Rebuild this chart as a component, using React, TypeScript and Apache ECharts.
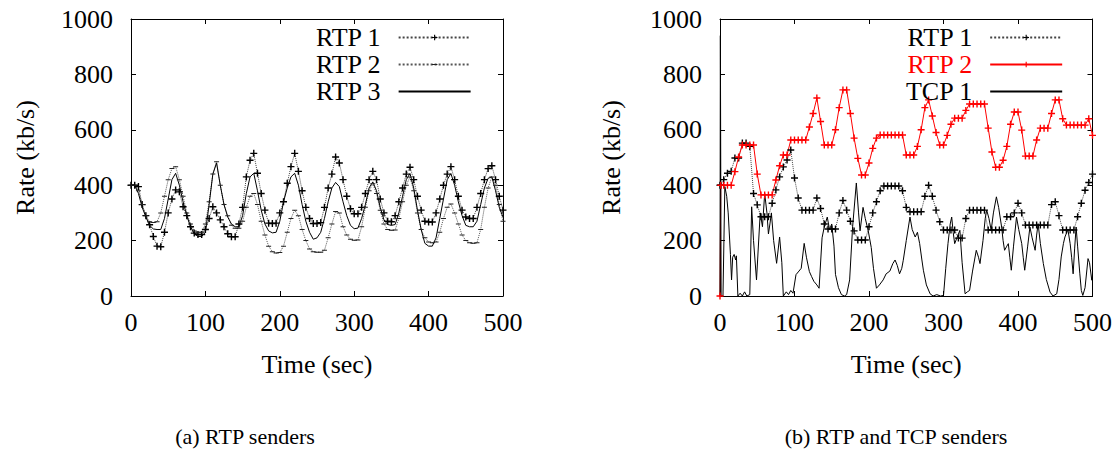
import React, { useEffect, useRef } from "react";
import * as echarts from "echarts";

// ---------- data ----------
const TIME_A = [
  0, 5, 10, 15, 20, 25, 30, 35, 40, 45,
  50, 55, 60, 65, 70, 75, 80, 85, 90, 95,
  100, 105, 110, 115, 120, 125, 130, 135, 140, 145,
  150, 155, 160, 165, 170, 175, 180, 185, 190, 195,
  200, 205, 210, 215, 220, 225, 230, 235, 240, 245,
  250, 255, 260, 265, 270, 275, 280, 285, 290, 295,
  300, 305, 310, 315, 320, 325, 330, 335, 340, 345,
  350, 355, 360, 365, 370, 375, 380, 385, 390, 395,
  400, 405, 410, 415, 420, 425, 430, 435, 440, 445,
  450, 455, 460, 465, 470, 475, 480, 485, 490, 495,
  500,
];

const RTP1_A = [
  400, 400, 395, 330, 290, 257, 215, 180, 178, 230,
  300, 350, 383, 376, 322, 290, 250, 227, 222, 222,
  240, 280, 322, 300, 275, 250, 225, 214, 214, 260,
  320, 430, 490, 515, 443, 370, 310, 263, 262, 263,
  300, 340, 407, 467, 515, 450, 380, 320, 280, 262,
  262, 265, 320, 390, 440, 502, 480, 420, 360, 315,
  297, 297, 320, 370, 420, 450, 420, 350, 300, 270,
  268, 290, 340, 390, 440, 465, 420, 360, 310, 270,
  267, 267, 300, 350, 400, 440, 467, 420, 360, 310,
  285, 280, 280, 320, 370, 420, 460, 470, 420, 360,
  310,
];

const RTP2_A = [
  400, 400, 380, 330, 290, 268, 265, 268, 300, 360,
  420, 460, 467, 420, 360, 300, 260, 235, 230, 230,
  260, 340, 440, 485, 400, 330, 290, 255, 245, 245,
  270, 320, 360, 370, 330, 270, 220, 180, 160, 155,
  157, 180, 230, 280, 310, 290, 240, 200, 170, 160,
  158, 158, 165, 210, 260, 305, 300, 250, 220, 205,
  201, 202, 250, 320, 380, 405, 370, 310, 260, 240,
  237, 238, 280, 340, 400, 430, 380, 300, 240, 210,
  195, 192, 195, 230, 280, 320, 332, 300, 260, 220,
  200, 192, 190, 192, 240, 320, 390, 430, 400, 330,
  270,
];

const RTP3_A = [
  400, 400, 370, 320, 285, 255, 242, 240, 240, 280,
  350, 420, 443, 400, 340, 290, 250, 225, 215, 215,
  230, 330, 440, 480, 400, 330, 285, 260, 250, 250,
  290, 370, 430, 443, 380, 310, 260, 235, 228, 230,
  270, 340, 390, 430, 443, 400, 330, 270, 230, 205,
  210, 230, 280, 340, 390, 410, 395, 340, 290, 255,
  243, 245, 280, 330, 390, 412, 380, 320, 275, 258,
  255, 258, 300, 360, 420, 442, 390, 310, 240, 190,
  180, 180, 210, 280, 350, 420, 442, 400, 340, 290,
  255, 250, 250, 270, 330, 390, 425, 430, 380, 320,
  285,
];

const TIME_B = [
  0, 1,
  5, 10, 15, 20, 25, 30, 35, 40, 45, 50,
  55, 60, 65, 70, 75, 80, 85, 90, 95, 100,
  105, 110, 115, 120, 125, 130, 135, 140, 145, 150,
  155, 160, 165, 170, 175, 180, 185, 190, 195, 200,
  205, 210, 215, 220, 225, 230, 235, 240, 245, 250,
  255, 260, 265, 270, 275, 280, 285, 290, 295, 300,
  305, 310, 315, 320, 325, 330, 335, 340, 345, 350,
  355, 360, 365, 370, 375, 380, 385, 390, 395, 400,
  405, 410, 415, 420, 425, 430, 435, 440, 445, 450,
  455, 460, 465, 470, 475, 480, 485, 490, 495, 500,
];

const RTP1_B = [
  400, 400,
  420, 443, 450, 498, 498, 552, 552, 540, 370, 329,
  286, 286, 286, 335, 383, 430, 466, 491, 527, 426,
  354, 310, 310, 310, 310, 354, 316, 260, 242, 242,
  242, 300, 345, 310, 270, 235, 202, 202, 202, 250,
  300, 340, 380, 397, 397, 397, 397, 397, 380, 320,
  304, 304, 304, 304, 360, 400, 360, 310, 268, 238,
  238, 238, 238, 209, 209, 280, 310, 310, 310, 310,
  310, 238, 238, 238, 238, 238, 286, 286, 300, 335,
  300, 256, 256, 256, 256, 256, 256, 256, 330, 340,
  290, 238, 238, 238, 238, 286, 335, 382, 410, 440,
];

const RTP2_B = [
  0, 400,
  400, 400, 400, 449, 502, 545, 545, 545, 545, 440,
  365, 365, 365, 365, 419, 470, 509, 509, 563, 563,
  563, 563, 563, 610, 659, 715, 630, 545, 545, 545,
  600, 680, 744, 744, 659, 570, 497, 437, 437, 480,
  533, 570, 581, 581, 581, 581, 581, 581, 581, 509,
  509, 509, 540, 600, 680, 708, 650, 590, 545, 545,
  580, 620, 642, 642, 642, 670, 693, 693, 693, 693,
  693, 606, 520, 465, 465, 490, 540, 620, 664, 664,
  599, 505, 505, 505, 563, 606, 606, 606, 659, 708,
  708, 640, 617, 617, 617, 617, 617, 617, 640, 580,
];

const TCP1_TIME = [
  0, 0.5, 1.5, 4, 6.5, 9, 11, 14, 15.5, 17, 19, 21, 22, 24, 27, 30, 33, 36, 40, 42.5,
  45, 49, 54, 57, 60, 63, 65, 67, 69, 72, 76, 80, 83, 85, 89, 92, 95, 98, 102, 106,
  109, 113, 116, 120, 123, 126, 130, 133, 137, 140, 144, 147, 150, 153, 155, 159, 163, 167, 170, 174,
  178, 183, 186, 188, 192, 195, 199, 203, 206, 210, 214, 219, 223, 228, 232, 235, 238, 241, 244, 246,
  250, 255, 258, 262, 265, 268, 271, 273, 277, 282, 286, 291, 296, 300, 303, 306, 309, 311, 313, 315,
  318, 322, 325, 329, 332, 335, 339, 344, 347, 349, 353, 356, 358, 361, 364, 367, 371, 374, 378, 380,
  382, 385, 387, 389, 391, 394, 398, 401, 405, 407, 409, 413, 416, 419, 423, 425, 427, 430, 434, 438,
  443, 447, 452, 455, 458, 461, 463, 467, 470, 472, 474, 476, 478, 480, 483, 485, 487, 490, 494, 496,
  499, 500,
];

const TCP1_RATE = [
  0, 940, 0, 0, 395, 360, 300, 150, 58, 140, 150, 130, 145, 0, 10, 0, 15, 0, 5, 322,
  200, 58, 300, 250, 370, 300, 224, 260, 300, 200, 118, 213, 120, 0, 15, 5, 20, 10, 77, 90,
  100, 190, 140, 88, 70, 53, 40, 28, 210, 250, 285, 240, 260, 180, 78, 30, 5, 0, 5, 58,
  250, 408, 300, 235, 320, 280, 235, 175, 100, 28, 40, 58, 80, 90, 117, 130, 110, 80, 100, 129,
  200, 285, 240, 213, 230, 189, 130, 93, 40, 8, 0, 5, 0, 2, 100, 189, 260, 285, 230, 189,
  210, 237, 120, 8, 15, 20, 90, 165, 140, 117, 200, 280, 310, 280, 237, 300, 358, 320, 249, 200,
  165, 180, 189, 140, 93, 180, 285, 240, 189, 140, 93, 180, 249, 210, 165, 220, 261, 190, 117, 60,
  14, 0, 8, 60, 141, 190, 213, 240, 189, 140, 80, 170, 249, 180, 80, 20, 2, 30, 135, 120,
  57, 80,
];

const X_LABEL = "Time (sec)";
const Y_LABEL = "Rate (kb/s)";
const CAPTIONS = ["(a) RTP senders", "(b) RTP and TCP senders"];

// ---------- helpers ----------
const FONT = "Liberation Serif";
const PLUS = "path://M4,0H6V4H10V6H6V10H4V6H0V4H4Z";
const DASH = "path://M0,0h0.01v0.01h-0.01Z M0,4H10V6H0Z M9.99,9.99h0.01v0.01h-0.01Z";
const CLEAR = "rgba(0,0,0,0)";

function pairs(t: number[], v: number[]) {
  return t.map((x, i) => [x, v[i]]);
}

const axisLine = { show: true, onZero: false, lineStyle: { color: "#000", width: 1 } };
const axisTick = { show: true, inside: true, length: 5, lineStyle: { color: "#000", width: 1 } };
const plain = (v: number) => String(v);

function xAxes(grid: number) {
  return [
    {
      type: "value", gridIndex: grid, position: "bottom", min: 0, max: 500, interval: 100,
      axisLine, axisTick,
      axisLabel: { margin: 13, color: "#000", fontFamily: FONT, fontSize: 26, formatter: plain },
      splitLine: { show: false },
      name: X_LABEL, nameLocation: "middle", nameGap: 55,
      nameTextStyle: { color: "#000", fontFamily: FONT, fontSize: 26 },
    },
    {
      type: "value", gridIndex: grid, position: "top", min: 0, max: 500, interval: 100,
      axisLine, axisTick, axisLabel: { show: false }, splitLine: { show: false },
    },
  ];
}

function yAxes(grid: number, gap: number) {
  return [
    {
      type: "value", gridIndex: grid, position: "left", min: 0, max: 1000, interval: 200,
      axisLine, axisTick,
      axisLabel: { margin: 18, color: "#000", fontFamily: FONT, fontSize: 26, formatter: plain },
      splitLine: { show: false },
      name: Y_LABEL, nameLocation: "middle", nameGap: gap,
      nameTextStyle: { color: "#000", fontFamily: FONT, fontSize: 26 },
    },
    {
      type: "value", gridIndex: grid, position: "right", min: 0, max: 1000, interval: 200,
      axisLine, axisTick, axisLabel: { show: false }, splitLine: { show: false },
    },
  ];
}

const legendBase = {
  orient: "vertical",
  align: "right",
  padding: 0,
  itemGap: 0,
  itemWidth: 72,
  itemHeight: 7,
  selectedMode: false,
  formatter: (name: string) => name.slice(2),
  textStyle: { color: "#000", fontFamily: FONT, fontSize: 26, lineHeight: 27, padding: [0, 13, 0, 0] },
};

export default function App() {
  const ref = useRef<HTMLDivElement>(null);

  useEffect(() => {
    if (!ref.current) return;
    const chart = echarts.init(ref.current, undefined, { renderer: "svg" });
    const option = {
      animation: false,
      backgroundColor: "#fff",
      grid: [
        { left: 131, top: 19, width: 372, height: 277 },
        { left: 720, top: 19, width: 373, height: 277 },
      ],
      xAxis: [...xAxes(0), ...xAxes(1)],
      yAxis: [...yAxes(0, 93), ...yAxes(1, 96)],
      legend: [
        { ...legendBase, left: 315, top: 24, data: ["a:RTP 1", "a:RTP 2", "a:RTP 3"] },
        {
          ...legendBase, left: 905, top: 24,
          data: [
            "b:RTP 1",
            { name: "b:RTP 2", textStyle: { color: "#ff0000" } },
            "b:TCP 1",
          ],
        },
      ],
      series: [
        {
          name: "a:RTP 1", type: "line", xAxisIndex: 0, yAxisIndex: 0,
          data: pairs(TIME_A, RTP1_A),
          symbol: PLUS, symbolSize: 7, showAllSymbol: true,
          itemStyle: { color: "#000" },
          lineStyle: { color: "#444", width: 1, type: "dotted" },
        },
        {
          name: "a:RTP 2", type: "line", xAxisIndex: 0, yAxisIndex: 0,
          data: pairs(TIME_A, RTP2_A),
          symbol: DASH, symbolSize: 5, showAllSymbol: true,
          itemStyle: { color: "#222" },
          lineStyle: { color: "#555", width: 1, type: "dotted" },
        },
        {
          name: "a:RTP 3", type: "line", xAxisIndex: 0, yAxisIndex: 0,
          data: pairs(TIME_A, RTP3_A),
          symbol: "none",
          itemStyle: { color: CLEAR },
          lineStyle: { color: "#000", width: 1, type: "solid" },
        },
        {
          name: "b:RTP 1", type: "line", xAxisIndex: 2, yAxisIndex: 2,
          data: pairs(TIME_B, RTP1_B),
          symbol: PLUS, symbolSize: 7, showAllSymbol: true,
          itemStyle: { color: "#000" },
          lineStyle: { color: "#444", width: 1, type: "dotted" },
        },
        {
          name: "b:RTP 2", type: "line", xAxisIndex: 2, yAxisIndex: 2,
          data: pairs(TIME_B, RTP2_B),
          symbol: PLUS, symbolSize: 7, showAllSymbol: true,
          itemStyle: { color: "#ff0000" },
          lineStyle: { color: "#ff0000", width: 1, type: "solid" },
        },
        {
          name: "b:TCP 1", type: "line", xAxisIndex: 2, yAxisIndex: 2,
          data: pairs(TCP1_TIME, TCP1_RATE),
          symbol: "none",
          itemStyle: { color: CLEAR },
          lineStyle: { color: "#000", width: 1, type: "solid" },
        },
      ],
      graphic: [
        {
          type: "text", x: 245, y: 436,
          style: {
            text: CAPTIONS[0], fontSize: 22, fontFamily: FONT, fill: "#000",
            align: "center", verticalAlign: "middle",
          },
        },
        {
          type: "text", x: 896, y: 436,
          style: {
            text: CAPTIONS[1], fontSize: 22, fontFamily: FONT, fill: "#000",
            align: "center", verticalAlign: "middle",
          },
        },
      ],
    };
    chart.setOption(option as any);
    return () => chart.dispose();
  }, []);

  return (
    <div
      ref={ref}
      style={{ position: "fixed", left: 0, top: 0, width: 1115, height: 449, background: "#fff" }}
    />
  );
}
